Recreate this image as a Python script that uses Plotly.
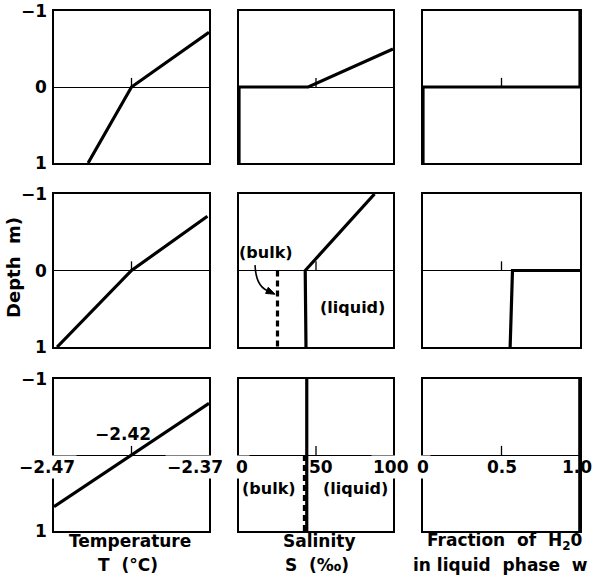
import plotly.graph_objects as go
from plotly.subplots import make_subplots

W, H = 594, 575

# ---------------- data ----------------
# Column 1: temperature T (°C) vs depth (m)
temp_r1 = [-2.448, -2.42, -2.37]
depth_temp_r1 = [1, 0, -0.72]
temp_r2 = [-2.468, -2.42, -2.371]
depth_temp_r2 = [1, 0, -0.71]
temp_r3 = [-2.47, -2.37]
depth_temp_r3 = [0.68, -0.68]

# Column 2: salinity S (‰)
sal_r1 = [0, 0, 45, 100]
depth_sal_r1 = [1, 0, 0, -0.5]
sal_liquid_r2 = [43.5, 43, 88]
depth_sal_liquid_r2 = [1, 0, -1]
sal_bulk_r2 = [25, 25]
depth_sal_bulk_r2 = [0, 1]
sal_liquid_r3 = [44, 44]
depth_sal_liquid_r3 = [-1, 1]
sal_bulk_r3 = [42.5, 42.5]
depth_sal_bulk_r3 = [0, 1]

# Column 3: fraction of H2O in liquid phase w
frac_r1 = [1, 1, 0, 0]
depth_frac_r1 = [-1, 0, 0, 1]
frac_r2 = [1, 0.57, 0.555]
depth_frac_r2 = [0, 0, 1]
frac_r3 = [1, 1]
depth_frac_r3 = [-1, 1]

x_ranges = [[-2.47, -2.37], [0, 100], [0, 1]]
center_ticks = [-2.42, 50, 0.5]
depth_ticks = [-1, 0, 1]
depth_ticktext = ["\u22121", "0", "1"]

temp_ticks = [-2.47, -2.37]
temp_ticktext = ["\u22122.47", "\u22122.37"]
sal_ticks = [0, 50, 100]
sal_ticktext = ["0", "50", "100"]
frac_ticks = [0, 0.5, 1.0]
frac_ticktext = ["0", "0.5", "1.0"]

# ---------------- layout ----------------
FONT = "DejaVu Sans"
col_px = [(54, 209), (239, 393), (423, 580)]
row_px = [(11, 163), (194, 347), (379, 531)]

fig = make_subplots(rows=3, cols=3)

def ax_name(n):
    return "" if n == 1 else str(n)

for r in range(3):
    for c in range(3):
        n = r * 3 + c + 1
        s = ax_name(n)
        fig.layout["xaxis" + s].update(
            domain=[col_px[c][0] / W, col_px[c][1] / W], range=x_ranges[c],
            showgrid=False, zeroline=False, showticklabels=False, ticks="",
            showline=True, mirror=True, linecolor="black", linewidth=1.5,
            fixedrange=True)
        fig.layout["yaxis" + s].update(
            domain=[1 - row_px[r][1] / H, 1 - row_px[r][0] / H], range=[1, -1],
            showgrid=False, zeroline=True, zerolinecolor="black", zerolinewidth=1.3,
            showticklabels=False, ticks="",
            showline=True, mirror=True, linecolor="black", linewidth=1.5,
            fixedrange=True)

def line(x, y, r, c, width=3.2, dash=None):
    fig.add_trace(go.Scatter(x=x, y=y, mode="lines", cliponaxis=False,
                             line=dict(color="black", width=width, dash=dash),
                             showlegend=False, hoverinfo="skip"), row=r, col=c)

# centre tick marks above zero line
for r in range(1, 4):
    for c in range(1, 4):
        t = center_ticks[c - 1]
        line([t, t], [0, -0.12], r, c, width=1.3)

line(temp_r1, depth_temp_r1, 1, 1)
line(temp_r2, depth_temp_r2, 2, 1)
line(temp_r3, depth_temp_r3, 3, 1)

line(sal_r1, depth_sal_r1, 1, 2)
line(sal_liquid_r2, depth_sal_liquid_r2, 2, 2)
line(sal_bulk_r2, depth_sal_bulk_r2, 2, 2, dash="6px,4px")
line(sal_bulk_r3, depth_sal_bulk_r3, 3, 2, dash="6px,4px")
line(sal_liquid_r3, depth_sal_liquid_r3, 3, 2)

line(frac_r1, depth_frac_r1, 1, 3)
line(frac_r2, depth_frac_r2, 2, 3)
line(frac_r3, depth_frac_r3, 3, 3, width=3.6)

ann = []
tfont = dict(family=FONT, size=17, color="black", weight="bold")
sfont = dict(family=FONT, size=16, color="black", weight="bold")

# depth labels (column 1 of every row; bottom row has no "0")
for r in range(3):
    n = r * 3 + 1
    s = ax_name(n)
    for v, t in zip(depth_ticks, depth_ticktext):
        if r == 2 and v == 0:
            continue
        ann.append(dict(xref="x" + s + " domain", yref="y" + s, x=0, y=v,
                        text=t, showarrow=False, xanchor="right", yanchor="middle",
                        xshift=-5, font=tfont))

# bottom-row x tick labels on the zero line
for v, t, xs in zip(temp_ticks, temp_ticktext, [-7, -14]):
    ann.append(dict(xref="x7", yref="y7", x=v, y=0, text=t, showarrow=False,
                    xanchor="center", yanchor="middle", xshift=xs, yshift=-12,
                    bgcolor="white", font=tfont))
ann.append(dict(xref="x7", yref="y7", x=center_ticks[0], y=0, text="\u22122.42",
                showarrow=False, xanchor="center", yanchor="middle",
                xshift=-9, yshift=21, font=tfont))
for v, t, xs, bg in zip(sal_ticks, sal_ticktext, [3, 5, -2],
                        ["white", "rgba(0,0,0,0)", "white"]):
    ann.append(dict(xref="x8", yref="y8", x=v, y=0, text=t, showarrow=False,
                    xanchor="center", yanchor="middle", xshift=xs, yshift=-12,
                    bgcolor=bg, font=tfont))
for v, t, xs, bg in zip(frac_ticks, frac_ticktext, [0, 0, -3],
                        ["white", "rgba(0,0,0,0)", "rgba(0,0,0,0)"]):
    ann.append(dict(xref="x9", yref="y9", x=v, y=0, text=t, showarrow=False,
                    xanchor="center", yanchor="middle", xshift=xs, yshift=-12,
                    bgcolor=bg, font=tfont))

# (bulk) / (liquid) labels
ann.append(dict(xref="paper", yref="paper", x=266 / W, y=1 - 252 / H, text="(bulk)",
                showarrow=False, xanchor="center", yanchor="middle", font=sfont))
ann.append(dict(xref="paper", yref="paper", x=352 / W, y=1 - 308 / H, text="(liquid)",
                showarrow=False, xanchor="center", yanchor="middle", font=sfont))
ann.append(dict(xref="paper", yref="paper", x=269 / W, y=1 - 488 / H, text="(bulk)",
                showarrow=False, xanchor="center", yanchor="middle", font=sfont))
ann.append(dict(xref="paper", yref="paper", x=355 / W, y=1 - 488 / H, text="(liquid)",
                showarrow=False, xanchor="center", yanchor="middle", font=sfont))

# axis titles (two lines each)
title_font = dict(family=FONT, size=17, color="black", weight="bold")
titles = [
    (130, "Temperature", 128, "T  (\u00b0C)"),
    (319, "Salinity", 317, "S  (\u2030)"),
    (504, "Fraction  of  H<sub>2</sub>0", 500, "in liquid  phase  w"),
]
for x1, t1, x2, t2 in titles:
    ann.append(dict(xref="paper", yref="paper", x=x1 / W, y=1 - 541 / H, text=t1,
                    showarrow=False, xanchor="center", yanchor="middle", font=title_font))
    ann.append(dict(xref="paper", yref="paper", x=x2 / W, y=1 - 565 / H, text=t2,
                    showarrow=False, xanchor="center", yanchor="middle", font=title_font))

ann.append(dict(xref="paper", yref="paper", x=13 / W, y=1 - 268 / H, text="Depth  m)",
                showarrow=False, textangle=-90, xanchor="center", yanchor="middle",
                font=dict(family=FONT, size=18, color="black", weight="bold")))

# curved arrow from "(bulk)" to dashed line (row 2, salinity panel)
shapes = [
    dict(type="path", xref="x5", yref="y5",
         path="M 10.4,-0.07 Q 11.0,0.20 18.2,0.26",
         line=dict(color="black", width=1.6)),
    dict(type="path", xref="x5", yref="y5",
         path="M 23.4,0.31 L 17.3,0.30 L 19.0,0.22 Z",
         fillcolor="black", line=dict(color="black", width=1)),
]

fig.update_layout(width=W, height=H, margin=dict(l=0, r=0, t=0, b=0),
                  plot_bgcolor="white", paper_bgcolor="white",
                  annotations=ann, shapes=shapes, showlegend=False)

fig.write_html("out.html", config={"displayModeBar": False},
               post_script="document.body.style.margin='0';document.body.style.overflow='hidden';")
